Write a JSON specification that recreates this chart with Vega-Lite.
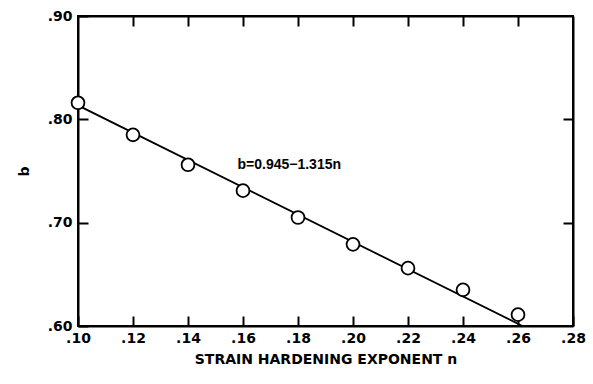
{
  "$schema": "https://vega.github.io/schema/vega-lite/v6.json",
  "width": 495,
  "height": 310,
  "autosize": {"type": "none"},
  "padding": {"left": 78, "top": 16, "right": 20, "bottom": 58},
  "background": "white",
  "config": {
    "view": {"stroke": "black", "strokeWidth": 2},
    "axis": {
      "domainColor": "black", "domainWidth": 2, "tickColor": "black", "tickWidth": 2,
      "tickSize": -10, "grid": false, "labelFlush": false, "labelFont": "DejaVu Sans", "labelFontWeight": "bold",
      "labelFontSize": 14, "labelColor": "black", "titleFont": "DejaVu Sans",
      "titleFontWeight": "bold", "titleFontSize": 14, "titleColor": "black"
    }
  },
  "datasets": {
    "pts": [
      {"n": 0.10, "b": 0.816},
      {"n": 0.12, "b": 0.785},
      {"n": 0.14, "b": 0.756},
      {"n": 0.16, "b": 0.731},
      {"n": 0.18, "b": 0.705},
      {"n": 0.20, "b": 0.679},
      {"n": 0.22, "b": 0.656},
      {"n": 0.24, "b": 0.635},
      {"n": 0.26, "b": 0.611}
    ],
    "fit": [
      {"n": 0.10, "b": 0.8135},
      {"n": 0.2616, "b": 0.60}
    ],
    "lab": [
      {"n": 0.158, "b": 0.756, "t": "b=0.945−1.315n"}
    ]
  },
  "resolve": {"axis": {"x": "independent", "y": "independent"}},
  "layer": [
    {
      "data": {"name": "fit"},
      "mark": {"type": "line", "color": "black", "strokeWidth": 1.8, "clip": true},
      "encoding": {
        "x": {"field": "n", "type": "quantitative", "scale": {"domain": [0.10, 0.28], "nice": false, "zero": false},
          "axis": {"values": [0.10, 0.12, 0.14, 0.16, 0.18, 0.20, 0.22, 0.24, 0.26, 0.28],
            "labelExpr": "replace(format(datum.value, '.2f'), '0.', '.')", "labelPadding": 15,
            "title": "STRAIN HARDENING EXPONENT n", "titlePadding": 7}},
        "y": {"field": "b", "type": "quantitative", "scale": {"domain": [0.60, 0.90], "nice": false, "zero": false},
          "axis": {"values": [0.60, 0.70, 0.80, 0.90],
            "labelExpr": "replace(format(datum.value, '.2f'), '0.', '.')", "labelPadding": 16,
            "title": "b", "titlePadding": 16}}
      }
    },
    {
      "data": {"name": "pts"},
      "mark": {"type": "point", "shape": "circle", "filled": false, "size": 165, "stroke": "black", "strokeWidth": 1.8, "fill": "white", "fillOpacity": 1},
      "encoding": {
        "x": {"field": "n", "type": "quantitative", "axis": {"orient": "top", "values": [0.12, 0.14, 0.16, 0.18, 0.20, 0.22, 0.24, 0.26], "labels": false, "title": null}},
        "y": {"field": "b", "type": "quantitative", "axis": {"orient": "right", "values": [0.70, 0.80], "labels": false, "title": null}}
      }
    },
    {
      "data": {"name": "lab"},
      "mark": {"type": "text", "align": "left", "baseline": "middle", "font": "Liberation Sans Narrow, Liberation Sans", "fontWeight": "bold", "fontSize": 14, "color": "black"},
      "encoding": {
        "x": {"field": "n", "type": "quantitative", "axis": null},
        "y": {"field": "b", "type": "quantitative", "axis": null},
        "text": {"field": "t"}
      }
    }
  ]
}
